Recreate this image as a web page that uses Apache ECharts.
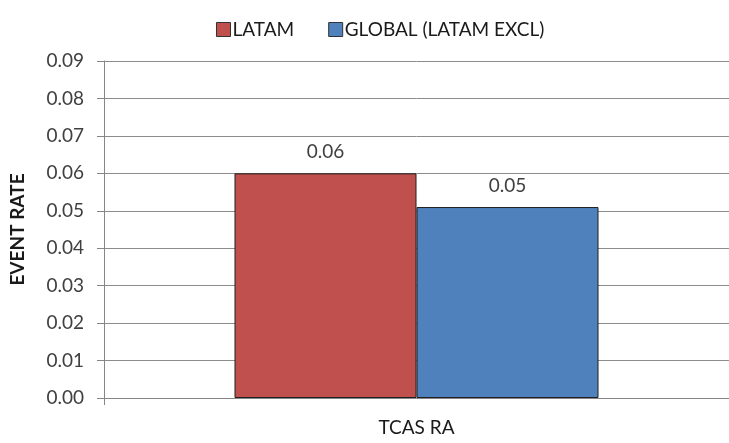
<!DOCTYPE html>
<html>
<head>
<meta charset="utf-8">
<script src="https://cdn.jsdelivr.net/npm/echarts@6/dist/echarts.min.js"></script>
<style>
  html, body { margin: 0; padding: 0; background: #fff; }
  #chart { width: 729px; height: 443px; }
</style>
</head>
<body>
<div id="chart"></div>
<script>
const categories = ['TCAS RA']
const seriesNames = ['LATAM', 'GLOBAL (LATAM EXCL)']
const latamValues = [0.06]
const globalValues = [0.051]
const colors = ['#C0504D', '#4F81BD']

const font = 'Lato, "Open Sans", sans-serif'
const axisGray = '#868686'

const chart = echarts.init(document.getElementById('chart'))

function barSeries(name, data, color) {
  return {
    name: name,
    type: 'bar',
    data: data,
    barWidth: 182,
    barGap: '0%',
    itemStyle: { color: color, borderColor: '#1f1f1f', borderWidth: 1 },
    label: {
      show: true,
      position: 'top',
      distance: 12,
      color: '#404040',
      fontFamily: font,
      fontSize: 19,
      formatter: p => p.value.toFixed(2)
    }
  }
}

chart.setOption({
  animation: false,
  textStyle: { fontFamily: font },
  legend: {
    top: 15,
    left: 211,
    itemWidth: 14,
    itemHeight: 14,
    itemGap: 34,
    icon: 'rect',
    itemStyle: { borderColor: '#333', borderWidth: 1 },
    textStyle: { color: '#1a1a1a', fontSize: 19, fontFamily: font, padding: [0, 0, 0, -3] },
    data: seriesNames
  },
  grid: { left: 97, width: 640, top: 61, bottom: 45, containLabel: false },
  xAxis: {
    type: 'category',
    data: categories,
    axisLine: { lineStyle: { color: axisGray } },
    axisTick: { show: true, length: 7, lineStyle: { color: axisGray } },
    axisLabel: { color: '#1a1a1a', fontSize: 19, margin: 20, fontFamily: font }
  },
  yAxis: {
    type: 'value',
    min: 0,
    max: 0.09,
    interval: 0.01,
    name: 'EVENT RATE',
    nameLocation: 'middle',
    nameGap: 77,
    nameTextStyle: { color: '#1a1a1a', fontSize: 19, fontWeight: 'bold', fontFamily: font },
    axisLine: { show: true, lineStyle: { color: axisGray } },
    axisTick: { show: true, length: 7, lineStyle: { color: axisGray } },
    axisLabel: {
      color: '#404040',
      fontSize: 19,
      margin: 20,
      fontFamily: font,
      formatter: v => v.toFixed(2)
    },
    splitLine: { lineStyle: { color: '#8c8c8c' } }
  },
  series: [
    barSeries(seriesNames[0], latamValues, colors[0]),
    barSeries(seriesNames[1], globalValues, colors[1])
  ]
})
</script>
</body>
</html>
